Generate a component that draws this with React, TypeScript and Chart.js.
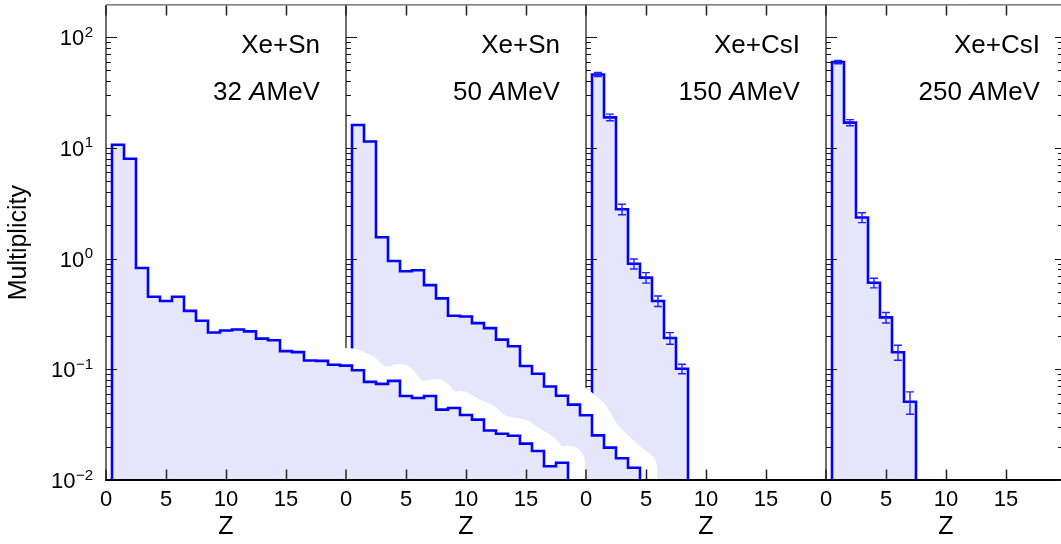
import React, { useEffect, useRef } from "react";
import { Chart, registerables } from "chart.js";

Chart.register(...registerables);

const FONT = "'Liberation Sans', Arial, Helvetica, sans-serif";

// ---- data -------------------------------------------------------------
const SYSTEMS = ["Xe+Sn", "Xe+Sn", "Xe+CsI", "Xe+CsI"];
const ENERGIES = ["32", "50", "150", "250"];

// multiplicity for Z = 1, 2, 3, ...
const MULT_XESN_32 = [
  10.65, 7.98, 0.822, 0.452, 0.414, 0.452, 0.337, 0.274, 0.215, 0.224,
  0.229, 0.22, 0.189, 0.183, 0.146, 0.143, 0.12, 0.119, 0.11, 0.108,
  0.098, 0.077, 0.0738, 0.0785, 0.0573, 0.055, 0.0573, 0.0432, 0.0447, 0.0387,
  0.0351, 0.028, 0.0262, 0.0251, 0.0213, 0.0183, 0.0133, 0.0143,
];
const MULT_XESN_50 = [
  16.08, 11.42, 1.557, 0.95, 0.768, 0.784, 0.576, 0.437, 0.304, 0.2996,
  0.261, 0.2355, 0.1854, 0.1614, 0.1069, 0.0912, 0.0698, 0.0577, 0.0479, 0.0384,
  0.0253, 0.0196, 0.0157, 0.0129,
];
const MULT_XECSI_150 = [46.0, 18.84, 2.79, 0.898, 0.673, 0.414, 0.1915, 0.1011];
const ERR_XECSI_150 = [1.9, 1.3, 0.3, 0.092, 0.073, 0.045, 0.023, 0.01];
const MULT_XECSI_250 = [59.6, 16.89, 2.35, 0.604, 0.294, 0.1427, 0.0509];
const ERR_XECSI_250 = [2.1, 1.08, 0.24, 0.061, 0.032, 0.022, 0.0116];

const X_TICKS = [0, 5, 10, 15];
const Y_DECADES = [-2, -1, 0, 1, 2];
const Z_PER_PANEL = 20;
const Y_MIN = 0.01;
const Y_MAX = 193.4;
const FLOOR = 0.001; // below the axis, clipped
const ANNOT_Z = 17.83;

const PANELS = [
  { values: MULT_XESN_32, errors: null as number[] | null },
  { values: MULT_XESN_50, errors: null as number[] | null },
  { values: MULT_XECSI_150, errors: ERR_XECSI_150 },
  { values: MULT_XECSI_250, errors: ERR_XECSI_250 },
];

// ---- style ----
const BLUE = "#0000ff";
const FILL = "#e6e6fa";

function stepPath(values: number[], off: number) {
  const pts: { x: number; y: number }[] = [{ x: off + 0.5, y: FLOOR }];
  values.forEach((v, i) => {
    const z = i + 1;
    pts.push({ x: off + z - 0.5, y: v }, { x: off + z + 0.5, y: v });
  });
  pts.push({ x: off + values.length + 0.5, y: FLOOR });
  return pts;
}

function haloPath(values: number[], off: number) {
  const pts: { x: number; y: number }[] = [
    { x: off + 0.5, y: FLOOR },
    { x: off + 0.5, y: values[0] },
  ];
  values.forEach((v, i) => pts.push({ x: off + i + 1.5, y: v }));
  pts.push({ x: off + values.length + 0.5, y: FLOOR });
  return pts;
}

function errPath(values: number[], errors: number[], off: number) {
  const pts: { x: number; y: number | null }[] = [];
  values.forEach((v, i) => {
    const z = off + i + 1;
    pts.push({ x: z, y: v - errors[i] }, { x: z, y: v + errors[i] }, { x: z, y: null });
  });
  return pts;
}

function buildDatasets() {
  const ds: any[] = [];
  PANELS.forEach((p, k) => {
    const off = k * Z_PER_PANEL;
    const base = (k + 1) * 10;
    ds.push({
      data: haloPath(p.values, off),
      borderColor: "#ffffff",
      borderWidth: 34,
      borderJoinStyle: "round",
      borderCapStyle: "round",
      pointRadius: 0,
      fill: false,
      order: base + 2,
      panel: k,
      last: false,
    });
    ds.push({
      data: stepPath(p.values, off),
      borderColor: BLUE,
      borderWidth: 2.6,
      backgroundColor: FILL,
      fill: "start",
      pointRadius: 0,
      order: base + 1,
      panel: k,
      last: !p.errors,
    });
    if (p.errors) {
      ds.push({
        data: errPath(p.values, p.errors, off),
        borderColor: "#2020ff",
        borderWidth: 1.4,
        pointStyle: "line",
        pointRadius: 4,
        pointBorderColor: "#2020ff",
        pointBorderWidth: 1.4,
        fill: false,
        spanGaps: false,
        order: base,
        panel: k,
        last: true,
      });
    }
  });
  return ds;
}

function drawYTicks(ctx: CanvasRenderingContext2D, chart: any, x0: number, dir: number, majLen: number, minLen: number) {
  const ys = chart.scales.y;
  ctx.strokeStyle = "#111";
  ctx.lineWidth = 1.2;
  ctx.beginPath();
  Y_DECADES.forEach((e) => {
    for (let m = 1; m <= 9; m++) {
      const v = m * Math.pow(10, e);
      if (v < Y_MIN || v > Y_MAX) continue;
      const y = Math.round(ys.getPixelForValue(v)) + 0.5;
      const len = m === 1 ? majLen : minLen;
      ctx.moveTo(x0, y);
      ctx.lineTo(x0 + dir * len, y);
    }
  });
  ctx.stroke();
}

function drawPanelAxis(chart: any, k: number) {
  const { ctx, chartArea } = chart;
  const xs = chart.scales["xb" + (k + 1)];
  const x0 = Math.round(xs.getPixelForValue(0));
  ctx.save();
  ctx.strokeStyle = "#6e6e6e";
  ctx.lineWidth = 2;
  ctx.beginPath();
  ctx.moveTo(x0, chartArea.top);
  ctx.lineTo(x0, chartArea.bottom);
  ctx.stroke();
  drawYTicks(ctx, chart, x0, 1, 11, 5);
  ctx.restore();
}

function drawFrame(chart: any) {
  const { ctx, chartArea } = chart;
  ctx.save();
  // top line
  ctx.strokeStyle = "#333";
  ctx.lineWidth = 1;
  ctx.beginPath();
  ctx.moveTo(chartArea.left, chartArea.top - 0.5);
  ctx.lineTo(chartArea.right, chartArea.top - 0.5);
  ctx.stroke();
  // x ticks (top & bottom, inward)
  ctx.strokeStyle = "#222";
  ctx.lineWidth = 1.5;
  ctx.beginPath();
  PANELS.forEach((_, k) => {
    const xs = chart.scales["xb" + (k + 1)];
    X_TICKS.forEach((t) => {
      const x = Math.round(xs.getPixelForValue(t)) + (t === 0 ? 0 : 0.5);
      ctx.moveTo(x, chartArea.top);
      ctx.lineTo(x, chartArea.top + 10);
      ctx.moveTo(x, chartArea.bottom);
      ctx.lineTo(x, chartArea.bottom - 10.5);
    });
  });
  ctx.stroke();
  // bottom line
  ctx.strokeStyle = "#000";
  ctx.lineWidth = 2;
  ctx.beginPath();
  ctx.moveTo(chartArea.left - 1, chartArea.bottom);
  ctx.lineTo(chartArea.right, chartArea.bottom);
  ctx.stroke();
  // right axis
  const xr = Math.round(chartArea.right);
  ctx.strokeStyle = "#6e6e6e";
  ctx.lineWidth = 2;
  ctx.beginPath();
  ctx.moveTo(xr, chartArea.top);
  ctx.lineTo(xr, chartArea.bottom);
  ctx.stroke();
  drawYTicks(ctx, chart, xr, -1, 11, 8);
  ctx.restore();
}

function drawLabels(chart: any) {
  const { ctx, chartArea } = chart;
  const ys = chart.scales.y;
  ctx.save();
  ctx.fillStyle = "#000";
  ctx.textBaseline = "alphabetic";
  // y tick labels with superscript exponents
  const right = 93;
  Y_DECADES.forEach((e) => {
    const y = ys.getPixelForValue(Math.pow(10, e));
    const exp = e < 0 ? "\u2212" + Math.abs(e) : String(e);
    ctx.font = `15px ${FONT}`;
    const ew = ctx.measureText(exp).width;
    ctx.textAlign = "left";
    ctx.fillText(exp, right - ew, y - 0.5);
    ctx.font = `22px ${FONT}`;
    const mw = ctx.measureText("10").width;
    ctx.fillText("10", right - ew - mw - 0.5, y + 8);
  });
  // panel annotations
  const xsAll = chart.scales.x;
  PANELS.forEach((_, k) => {
    const xr = xsAll.getPixelForValue(k * Z_PER_PANEL + ANNOT_Z);
    ctx.textAlign = "right";
    ctx.font = `26px ${FONT}`;
    ctx.fillText(SYSTEMS[k], xr, chartArea.top + 47.3);
    const parts: [string, string][] = [
      [ENERGIES[k] + " ", `26px ${FONT}`],
      ["A", `italic 26px ${FONT}`],
      ["MeV", `26px ${FONT}`],
    ];
    let total = 0;
    parts.forEach(([t, f]) => {
      ctx.font = f;
      total += ctx.measureText(t).width;
    });
    let x = xr - total;
    ctx.textAlign = "left";
    parts.forEach(([t, f]) => {
      ctx.font = f;
      ctx.fillText(t, x, chartArea.top + 94.7);
      x += ctx.measureText(t).width;
    });
  });
  ctx.restore();
}

const panelPlugin = {
  id: "panelDecor",
  afterDatasetDraw(chart: any, args: any) {
    const ds = chart.data.datasets[args.index];
    if (ds && ds.last) drawPanelAxis(chart, ds.panel);
  },
  afterDatasetsDraw(chart: any) {
    drawFrame(chart);
  },
  afterDraw(chart: any) {
    drawLabels(chart);
  },
};

function bottomAxis() {
  return {
    type: "linear",
    position: "bottom",
    stack: "bottom",
    stackWeight: 1,
    min: 0,
    max: Z_PER_PANEL,
    grid: { display: false, drawTicks: false },
    border: { display: false },
    ticks: {
      stepSize: 5,
      autoSkip: false,
      maxRotation: 0,
      padding: 7,
      color: "#000",
      font: { family: FONT, size: 22 },
      callback: (v: number) => (X_TICKS.includes(v) ? String(v) : null),
    },
    title: {
      display: true,
      text: "Z",
      color: "#000",
      font: { family: FONT, size: 25 },
      padding: { top: 0, bottom: 1.5 },
    },
    afterFit: (s: any) => {
      s.height = 64;
    },
  };
}

export default function App() {
  const ref = useRef<HTMLCanvasElement>(null);
  useEffect(() => {
    const canvas = ref.current;
    if (!canvas) return;
    const chart = new Chart(canvas, {
      type: "line",
      data: { datasets: buildDatasets() },
      options: {
        responsive: false,
        animation: false,
        devicePixelRatio: 1,
        events: [],
        layout: { padding: { left: 0, right: 14, top: 1, bottom: 0 } },
        plugins: {
          legend: { display: false },
          tooltip: { enabled: false },
        },
        scales: {
          x: { type: "linear", position: "top", min: 0, max: 4 * Z_PER_PANEL, display: false },
          y: {
            type: "logarithmic",
            position: "left",
            min: Y_MIN,
            max: Y_MAX,
            grid: { display: false, drawTicks: false },
            border: { display: false },
            ticks: { display: false },
            title: {
              display: true,
              text: "Multiplicity",
              color: "#000",
              font: { family: FONT, size: 25 },
              padding: { top: 4, bottom: 0 },
            },
            afterFit: (s: any) => {
              s.width = 106;
            },
          },
          xb1: bottomAxis(),
          xb2: bottomAxis(),
          xb3: bottomAxis(),
          xb4: bottomAxis(),
        } as any,
      } as any,
      plugins: [panelPlugin],
    });
    return () => chart.destroy();
  }, []);
  return (
    <div
      style={{
        position: "fixed",
        left: 0,
        top: 0,
        width: 1061,
        height: 544,
        overflow: "hidden",
        background: "#fff",
      }}
    >
      <canvas ref={ref} width={1080} height={544} style={{ display: "block", width: 1080, height: 544 }} />
    </div>
  );
}
